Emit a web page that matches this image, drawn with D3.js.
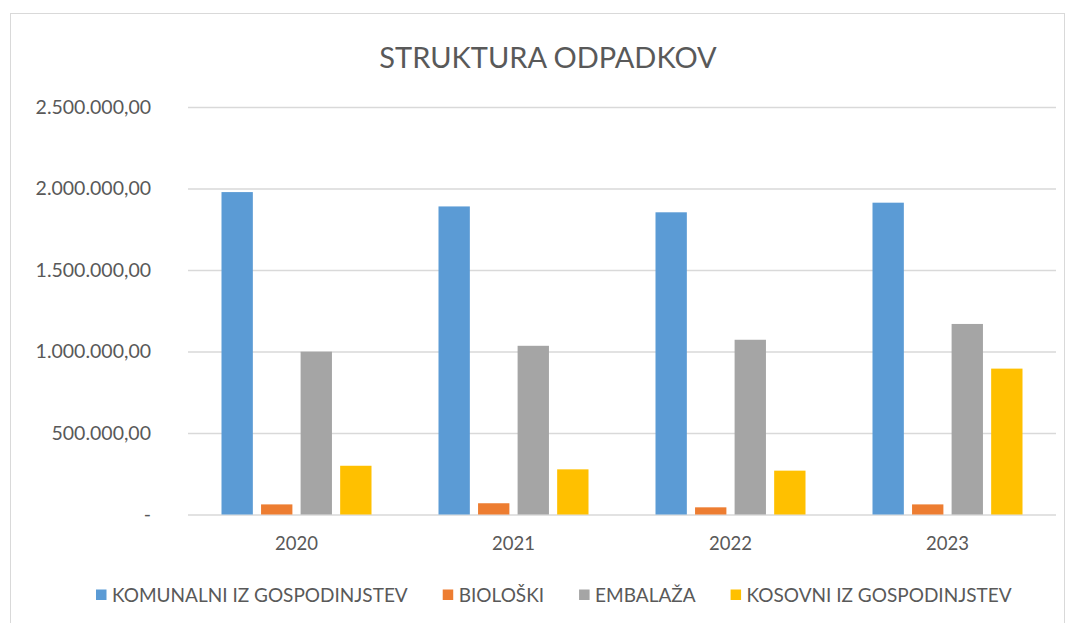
<!DOCTYPE html>
<html>
<head>
<meta charset="utf-8">
<script src="https://cdn.jsdelivr.net/npm/d3@7/dist/d3.min.js"></script>
<style>
  html, body { margin: 0; padding: 0; background: #ffffff; }
  svg { display: block; }
  text { font-family: Lato, "Open Sans", sans-serif; fill: #595959; }
</style>
</head>
<body>
<svg id="chart" width="1071" height="623"></svg>
<script>
const title = "STRUKTURA ODPADKOV";
const years = ["2020", "2021", "2022", "2023"];
const seriesNames = ["KOMUNALNI IZ GOSPODINJSTEV", "BIOLOŠKI", "EMBALAŽA", "KOSOVNI IZ GOSPODINJSTEV"];
const komunalni = [1978000, 1890000, 1854000, 1913000];
const bioloski = [62000, 69000, 44000, 62000];
const embalaza = [999000, 1035000, 1072000, 1169000];
const kosovni = [299000, 277000, 269000, 895000];
const yTickValues = [0, 500000, 1000000, 1500000, 2000000, 2500000];
const yTickLabels = ["-", "500.000,00", "1.000.000,00", "1.500.000,00", "2.000.000,00", "2.500.000,00"];
const colors = ["#5B9BD5", "#ED7D31", "#A5A5A5", "#FFC000"];

const seriesValues = [komunalni, bioloski, embalaza, kosovni];

const svg = d3.select("#chart");

// chart border
svg.append("rect")
  .attr("x", 10.5).attr("y", 13.5)
  .attr("width", 1054).attr("height", 620)
  .attr("fill", "#ffffff")
  .attr("stroke", "#d9d9d9").attr("stroke-width", 1);

const plotLeft = 188, plotRight = 1056, plotTop = 107, plotBottom = 514.5;

const y = d3.scaleLinear().domain([0, 2500000]).range([plotBottom, plotTop]);
const x = d3.scaleBand().domain(years).range([plotLeft, plotRight]).padding(0);
const groupW = 150;
const xi = d3.scaleBand().domain(d3.range(seriesNames.length))
  .range([0, groupW]).paddingInner(0.2076).paddingOuter(0);

// title
svg.append("text")
  .attr("x", 548).attr("y", 68)
  .attr("text-anchor", "middle")
  .style("font-size", "29px")
  .text(title);

// gridlines + y labels
const yAxis = d3.axisLeft(y)
  .tickValues(yTickValues)
  .tickSize(-(plotRight - plotLeft))
  .tickPadding(37)
  .tickFormat((d, i) => yTickLabels[i]);

const gy = svg.append("g")
  .attr("transform", `translate(${plotLeft},0)`)
  .call(yAxis);
gy.select(".domain").remove();
gy.selectAll(".tick line").attr("stroke", "#d9d9d9").attr("stroke-width", 1.3);
gy.selectAll(".tick text")
  .style("font-size", "19.5px")
  .style("font-family", "Lato, sans-serif")
  .attr("fill", "#595959");

// bars
years.forEach((yr, gi) => {
  const gx = x(yr) + (x.bandwidth() - groupW) / 2;
  svg.append("g").selectAll("rect")
    .data(seriesValues.map((vals, si) => ({ si, v: vals[gi] })))
    .join("rect")
    .attr("x", d => gx + xi(d.si))
    .attr("y", d => y(d.v))
    .attr("width", xi.bandwidth())
    .attr("height", d => y(0) - y(d.v))
    .attr("fill", d => colors[d.si]);
});

// x axis labels
const xAxis = d3.axisBottom(x).tickSize(0).tickPadding(22);
const gx = svg.append("g")
  .attr("transform", `translate(0,${plotBottom})`)
  .call(xAxis);
gx.select(".domain").remove();
gx.selectAll(".tick text")
  .style("font-size", "18.5px")
  .style("font-family", "Lato, sans-serif")
  .attr("fill", "#595959");

// legend
const legend = svg.append("g").attr("transform", "translate(96,0)");
let cx = 0;
seriesNames.forEach((name, i) => {
  const item = legend.append("g").attr("transform", `translate(${cx},0)`);
  item.append("rect")
    .attr("x", 0).attr("y", 589.5)
    .attr("width", 10.5).attr("height", 10.5)
    .attr("fill", colors[i]);
  const t = item.append("text")
    .attr("x", 16).attr("y", 601.5)
    .style("font-size", "19px")
    .text(name);
  cx += 16 + t.node().getComputedTextLength() + 35;
});
</script>
</body>
</html>
